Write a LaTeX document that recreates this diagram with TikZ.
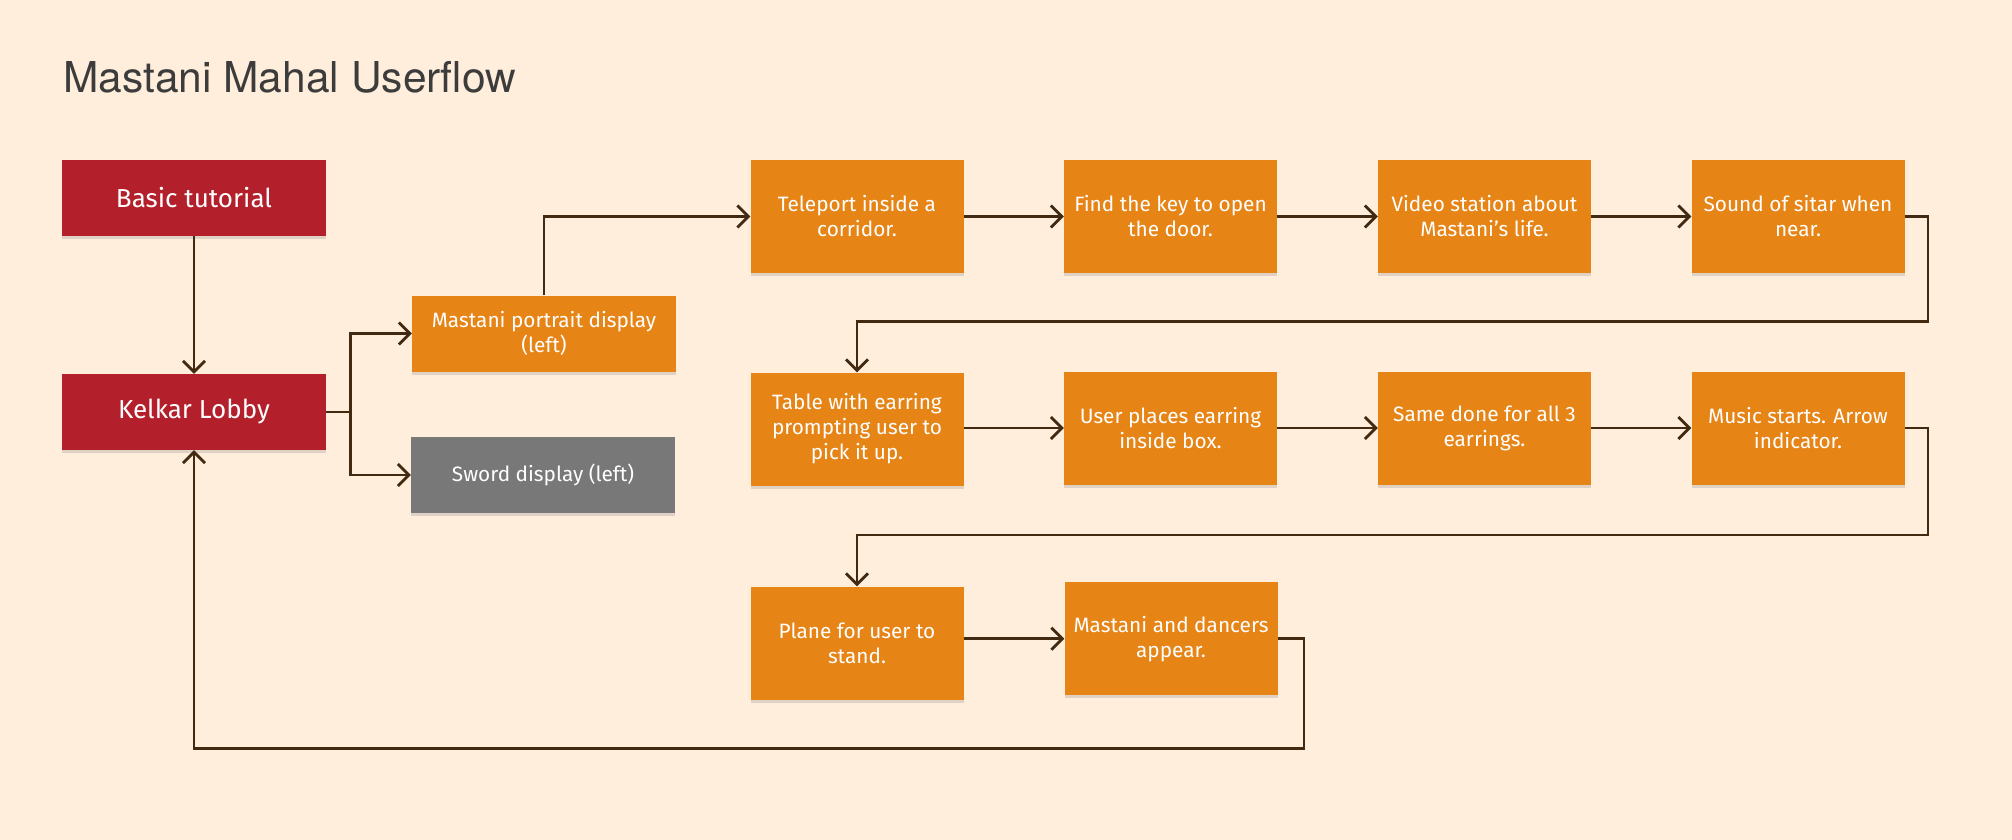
\documentclass[tikz,border=0pt]{standalone}
\usepackage{fontspec}
\setmainfont{Fira Sans}
\newfontfamily\titlefont{TeX Gyre Heros}
\usepackage{xcolor}
\definecolor{Bg}{RGB}{255,238,219}
\definecolor{ColRed}{RGB}{179,32,44}
\definecolor{ColOrange}{RGB}{230,132,22}
\definecolor{ColGray}{RGB}{120,120,120}
\definecolor{ColLine}{RGB}{66,42,18}
\definecolor{ColTitle}{RGB}{60,60,60}
\usetikzlibrary{arrows.meta}
\usetikzlibrary{shadows}
\tikzset{
  Box/.style={rectangle,inner sep=2pt,align=center,text=white,
    drop shadow={opacity=0.25,shadow xshift=0pt,shadow yshift=-3pt}},
  RedBox/.style={Box,fill=ColRed,minimum width=264pt,minimum height=76pt,
    font=\fontsize{26}{30}\selectfont},
  GrayBox/.style={Box,fill=ColGray,minimum width=264pt,minimum height=76pt,
    font=\fontsize{20.8}{25}\selectfont},
  WideBox/.style={Box,fill=ColOrange,minimum width=264pt,minimum height=76pt,
    font=\fontsize{20.8}{25}\selectfont},
  StepBox/.style={Box,fill=ColOrange,minimum width=213pt,minimum height=113pt,
    font=\fontsize{20.8}{25}\selectfont},
  Flow/.style={draw=ColLine,line width=2.8pt,
    -{Straight Barb[length=11pt,width=22pt,line width=2.8pt]}},
}

\begin{document}
\begin{tikzpicture}[x=1pt,y=-1pt]
    \fill[Bg](0,0)rectangle(2012,840);
    \useasboundingbox(0,0)rectangle(2012,840);
    \node[anchor=base west,inner sep=0pt,text=ColTitle,
        font=\titlefont\fontsize{42.5}{48}\selectfont](title)at(63,92.5)
        {Mastani Mahal Userflow};
    % left column
    \node[RedBox](basic)at(194,198){Basic tutorial};
    \node[RedBox](kelkar)at(194,412){Kelkar Lobby};
    \node[WideBox](portrait)at(544,333.5){Mastani portrait display\\(left)};
    \node[GrayBox](sword)at(543,475){Sword display (left)};
    % first row
    \node[StepBox](teleport)at(857,216.5){Teleport inside a\\corridor.};
    \node[StepBox](findkey)at(1170.5,216.5){Find the key to open\\the door.};
    \node[StepBox](video)at(1484.5,216.5){Video station about\\Mastani’s life.};
    \node[StepBox](sitar)at(1798,216.5){Sound of sitar when\\near.};
    % second row
    \node[StepBox](table)at(857,429){Table with earring\\prompting user to\\pick it up.};
    \node[StepBox](places)at(1170.5,428){User places earring\\inside box.};
    \node[StepBox](same)at(1484.5,428){Same done for all 3\\earrings.};
    \node[StepBox](music)at(1798,428){Music starts. Arrow\\indicator.};
    % third row
    \node[StepBox](plane)at(857,643){Plane for user to\\stand.};
    \node[StepBox](dancers)at(1171,638.7){Mastani and dancers\\appear.};
    % bends
    \coordinate(fork)at(350.5,412);
    \coordinate(turn1)at(1928,321.7);
    \coordinate(turn2)at(1928,535);
    \coordinate(turn3)at(1304,748.3);
    \draw[Flow](basic)--(kelkar);
    \draw[draw=ColLine,line width=2.8pt](kelkar.east)--(fork);
    \draw[Flow](fork)|-(portrait.west);
    \draw[Flow](fork)|-(sword.west);
    \draw[Flow](portrait.north)|-(teleport.west);
    \draw[Flow](teleport)--(findkey);
    \draw[Flow](findkey)--(video);
    \draw[Flow](video)--(sitar);
    \draw[Flow](sitar.east)-|(turn1)-|(table.north);
    \draw[Flow](table.east|-places.west)--(places.west);
    \draw[Flow](places)--(same);
    \draw[Flow](same)--(music);
    \draw[Flow](music.east)-|(turn2)-|(plane.north);
    \draw[Flow](plane.east|-dancers.west)--(dancers.west);
    \draw[Flow](dancers.east)-|(turn3)-|(kelkar.south);
\end{tikzpicture}
\end{document}
